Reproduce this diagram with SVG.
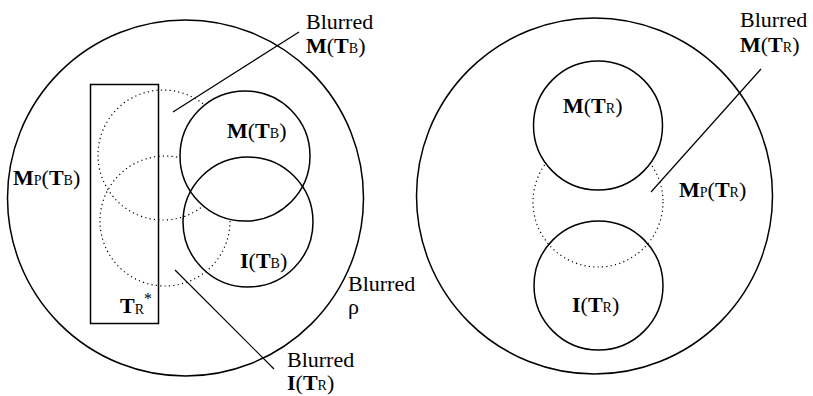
<svg xmlns="http://www.w3.org/2000/svg" width="813" height="396" viewBox="0 0 813 396">
<rect width="813" height="396" fill="#fff"/>
<g id="left-rho" fill="none" stroke="#000" stroke-width="1.5">
<circle cx="185.5" cy="198" r="178"/>
</g>
<g id="left-dotted" fill="none" stroke="#000" stroke-width="1.2" stroke-dasharray="1.2 3.2">
<circle cx="163" cy="155" r="65"/>
<circle cx="165" cy="221" r="65"/>
</g>
<g id="left-rect">
<rect x="90.5" y="84.5" width="68" height="239" fill="none" stroke="#000" stroke-width="1.5"/>
<text font-family="Liberation Serif" font-size="22" font-weight="bold" x="120" y="313">T<tspan font-size="14" font-weight="normal" dy="1">R</tspan><tspan font-weight="normal" font-size="16" dy="-10">*</tspan></text>
</g>
<g id="left-M">
<circle cx="245" cy="156" r="65" fill="#fff" stroke="none"/>
<text font-family="Liberation Serif" font-size="22" x="227" y="138"><tspan font-weight="bold">M</tspan>(<tspan font-weight="bold">T</tspan><tspan font-size="14">B</tspan>)</text>
</g>
<g id="left-I">
<circle cx="248" cy="222" r="65" fill="none" stroke="#000" stroke-width="1.5"/>
<circle cx="245" cy="156" r="65" fill="none" stroke="#000" stroke-width="1.5"/>
<text font-family="Liberation Serif" font-size="22" x="240" y="268"><tspan font-weight="bold">I</tspan>(<tspan font-weight="bold">T</tspan><tspan font-size="14">B</tspan>)</text>
</g>
<g id="right-rho" fill="none" stroke="#000" stroke-width="1.5">
<circle cx="594.5" cy="196" r="178"/>
</g>
<g id="right-dotted" fill="none" stroke="#000" stroke-width="1.2" stroke-dasharray="1.2 3.2">
<circle cx="598" cy="202" r="65"/>
</g>
<g id="right-M">
<circle cx="598" cy="125.5" r="64.5" fill="#fff" stroke="#000" stroke-width="1.5"/>
<text font-family="Liberation Serif" font-size="22" x="563" y="113"><tspan font-weight="bold">M</tspan>(<tspan font-weight="bold">T</tspan><tspan font-size="14">R</tspan>)</text>
</g>
<g id="right-I">
<circle cx="598.5" cy="285.5" r="64.5" fill="none" stroke="#000" stroke-width="1.5"/>
<text font-family="Liberation Serif" font-size="22" x="572" y="312"><tspan font-weight="bold">I</tspan>(<tspan font-weight="bold">T</tspan><tspan font-size="14">R</tspan>)</text>
</g>
<g id="connectors" stroke="#000" stroke-width="1.2">
<line x1="173" y1="112" x2="299" y2="32"/>
<line x1="175" y1="270" x2="274" y2="369"/>
<line x1="651" y1="192" x2="761" y2="69"/>
</g>
<g id="labels">
<text font-family="Liberation Serif" font-size="22" x="13" y="185"><tspan font-weight="bold">M</tspan><tspan font-size="14">P</tspan>(<tspan font-weight="bold">T</tspan><tspan font-size="14">B</tspan>)</text>
<text font-family="Liberation Serif" font-size="22" x="306" y="29">Blurred</text>
<text font-family="Liberation Serif" font-size="22" x="306" y="53"><tspan font-weight="bold">M</tspan>(<tspan font-weight="bold">T</tspan><tspan font-size="14">B</tspan>)</text>
<text font-family="Liberation Serif" font-size="22" x="348" y="291">Blurred</text>
<text font-family="Liberation Serif" font-size="22" x="348" y="314">&#961;</text>
<text font-family="Liberation Serif" font-size="22" x="287" y="367">Blurred</text>
<text font-family="Liberation Serif" font-size="22" x="287" y="390"><tspan font-weight="bold">I</tspan>(<tspan font-weight="bold">T</tspan><tspan font-size="14">R</tspan>)</text>
<text font-family="Liberation Serif" font-size="22" x="740" y="27">Blurred</text>
<text font-family="Liberation Serif" font-size="22" x="740" y="52"><tspan font-weight="bold">M</tspan>(<tspan font-weight="bold">T</tspan><tspan font-size="14">R</tspan>)</text>
<text font-family="Liberation Serif" font-size="22" x="679" y="197"><tspan font-weight="bold">M</tspan><tspan font-size="14">P</tspan>(<tspan font-weight="bold">T</tspan><tspan font-size="14">R</tspan>)</text>
</g>
</svg>
